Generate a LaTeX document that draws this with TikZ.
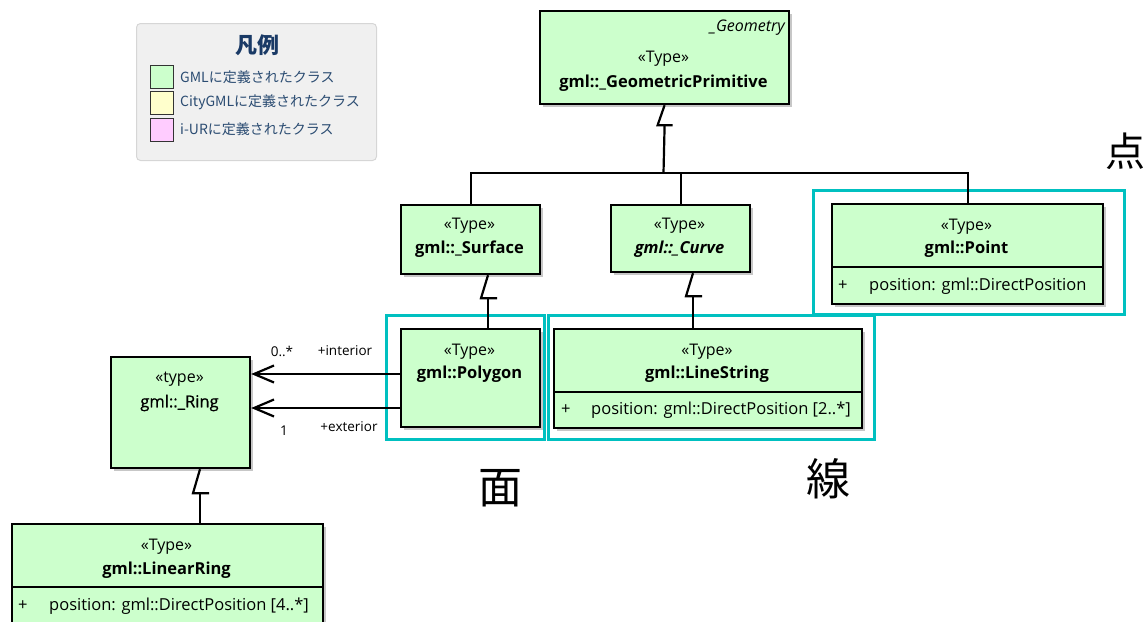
\documentclass[tikz,border=0pt]{standalone}
\usepackage{fontspec}
\setmainfont{Open Sans}
\newfontfamily\cjk{Noto Sans CJK JP}
\newfontfamily\semib[FakeBold=0.7]{Open Sans}
\usetikzlibrary{shadows,arrows.meta}
\definecolor{clsgreen}{HTML}{CCFFCC}
\definecolor{legyellow}{HTML}{FFFFCC}
\definecolor{legpink}{HTML}{FFCCFF}
\definecolor{cyanbox}{HTML}{00C0C0}
\definecolor{legtext}{HTML}{2B4C72}
\definecolor{legtitle}{HTML}{1A3A66}
\definecolor{legfill}{HTML}{F0F0F0}
\definecolor{legline}{HTML}{D6D6D6}
\begin{document}
\begin{tikzpicture}[x=1pt,y=-1pt,
  cls/.style={draw=black, line width=2.2pt, fill=clsgreen, anchor=north west, inner sep=0pt,
    drop shadow={shadow xshift=3pt, shadow yshift=-3pt, fill=black!22, opacity=1}},
  conn/.style={draw=black, line width=2.2pt},
  frame/.style={draw=cyanbox, line width=3.2pt},
  stereo/.style={font=\fontsize{16}{18}\selectfont, inner sep=0pt},
  cname/.style={font=\fontsize{16.5}{19}\selectfont\bfseries, inner sep=0pt},
  attr/.style={font=\fontsize{16.5}{19}\selectfont, inner sep=0pt, anchor=west},
  small/.style={font=\fontsize{13.5}{15}\selectfont, inner sep=0pt},
  swatch/.style={draw=black!80, line width=1.2pt, anchor=north west, minimum width=23pt, minimum height=23pt, inner sep=0pt},
  legt/.style={font=\cjk\fontsize{14}{16}\selectfont, text=legtext, anchor=west, inner sep=0pt},
  big/.style={font=\cjk\fontsize{44}{48}\selectfont, inner sep=0pt},
  barb/.style={-{Straight Barb[length=20pt,width=17pt,line width=2.2pt]}}
]
\useasboundingbox (0,0) rectangle (1147,621);

% Legend
\node[draw=legline, fill=legfill, line width=1pt, rounded corners=4pt, anchor=north west,
  minimum width=240pt, minimum height=137pt, inner sep=0pt] (legend) at (136,23) {};
\node[font=\cjk\fontsize{22}{24}\selectfont\bfseries, text=legtitle, inner sep=0pt] (legtitle) at (257,45) {凡例};
\node[swatch, fill=clsgreen] (sw1) at (150,65) {};
\node[swatch, fill=legyellow] (sw2) at (150,91) {};
\node[swatch, fill=legpink] (sw3) at (150,118) {};
\node[legt] (lt1) at (180,77) {GMLに定義されたクラス};
\node[legt] (lt2) at (180,102) {CityGMLに定義されたクラス};
\node[legt] (lt3) at (180,129) {i-URに定義されたクラス};

% Frames
\node[frame, anchor=north west, minimum width=311pt, minimum height=124pt, inner sep=0pt] (fpt) at (812,189) {};
\node[frame, anchor=north west, minimum width=158pt, minimum height=124pt, inner sep=0pt] (fpoly) at (385,314) {};
\node[frame, anchor=north west, minimum width=326pt, minimum height=124pt, inner sep=0pt] (fline) at (547,314) {};

% Classes
\node[cls, minimum width=249pt, minimum height=93pt] (geo) at (539,10) {};
\node[stereo, anchor=east, font=\fontsize{16}{18}\selectfont\itshape] (geotag) at (785,28) {\_Geometry};
\node[stereo] (geost) at (663.5,59) {«Type»};
\node[cname] (geonm) at (663.5,83) {gml::\_GeometricPrimitive};

\node[cls, minimum width=139pt, minimum height=69pt] (surf) at (400,204) {};
\node[stereo] (surfst) at (469.5,226) {«Type»};
\node[cname] (surfnm) at (469.5,249) {gml::\_Surface};

\node[cls, minimum width=139pt, minimum height=67pt] (curve) at (610,204) {};
\node[stereo] (curvest) at (679.5,226) {«Type»};
\node[cname, font=\fontsize{16.5}{19}\selectfont\bfseries\itshape] (curvenm) at (679.5,249) {gml::\_Curve};

\node[cls, minimum width=271pt, minimum height=100pt] (pt) at (831,203) {};
\draw[conn] (831,267) -- (1102,267);
\node[stereo] (ptst) at (966.5,227) {«Type»};
\node[cname] (ptnm) at (966.5,249) {gml::Point};
\node[attr] (ptplus) at (838,286) {+};
\node[attr] (ptat) at (869,286) {position: gml::DirectPosition};

\node[cls, minimum width=139pt, minimum height=98pt] (poly) at (400,328) {};
\node[stereo] (polyst) at (469.5,352) {«Type»};
\node[cname] (polynm) at (469.5,374) {gml::Polygon};

\node[cls, minimum width=308pt, minimum height=99pt] (ls) at (553,328) {};
\draw[conn] (553,392) -- (861,392);
\node[stereo] (lsst) at (707,352) {«Type»};
\node[cname] (lsnm) at (707,374) {gml::LineString};
\node[attr] (lsplus) at (561,410) {+};
\node[attr] (lsat) at (591,410) {position: gml::DirectPosition [2..*]};

\node[cls, minimum width=139pt, minimum height=111pt] (ring) at (110,356) {};
\node[stereo] (ringst) at (179.5,379) {«type»};
\node[cname, font=\semib\fontsize{16.5}{19}\selectfont] (ringnm) at (179.5,403) {gml::\_Ring};

\node[cls, minimum width=311pt, minimum height=100pt] (lr) at (11,523) {};
\draw[conn] (11,587) -- (322,587);
\node[stereo] (lrst) at (166.5,547) {«Type»};
\node[cname] (lrnm) at (166.5,570) {gml::LinearRing};
\node[attr] (lrplus) at (18,606) {+};
\node[attr] (lrat) at (49,606) {position: gml::DirectPosition [4..*]};

% Generalizations
\coordinate (bus) at (663.5,173);
\draw[conn] (geo.south) -- ++(-7,20) -- ++(15,0);
\draw[conn] ([yshift=-20pt]geo.south) -- (bus);
\draw[conn] (surf.north) |- (bus);
\draw[conn] (pt.north) |- (bus);
\draw[conn] (curve.north) -- (curve.north |- bus);

\coordinate (xs) at (488,0);
\draw[conn] (surf.south -| xs) -- ++(-7,23) -- ++(16,0);
\draw[conn] ([yshift=-23pt]surf.south -| xs) -- (poly.north -| xs);

\coordinate (xc) at (693,0);
\draw[conn] (curve.south -| xc) -- ++(-7,23) -- ++(16,0);
\draw[conn] ([yshift=-23pt]curve.south -| xc) -- (ls.north -| xc);

\coordinate (xr) at (200,0);
\draw[conn] (ring.south -| xr) -- ++(-7,24) -- ++(16,0);
\draw[conn] ([yshift=-24pt]ring.south -| xr) -- (lr.north -| xr);

% Associations
\coordinate (yi) at (0,374);
\coordinate (ye) at (0,408);
\draw[conn, barb] (poly.west |- yi) -- (ring.east |- yi);
\draw[conn, barb] (poly.west |- ye) -- (ring.east |- ye);
\node[small] (mi) at (282,351) {0..*};
\node[small] (ri) at (345,351) {+interior};
\node[small] (me) at (284,431) {1};
\node[small] (re) at (349,427) {+exterior};

% Big labels
\node[big, font=\cjk\fontsize{40}{44}\selectfont] (ten) at (1125,151) {点};
\node[big] (men) at (500,488) {面};
\node[big] (sen) at (828,479) {線};
\end{tikzpicture}
\end{document}
